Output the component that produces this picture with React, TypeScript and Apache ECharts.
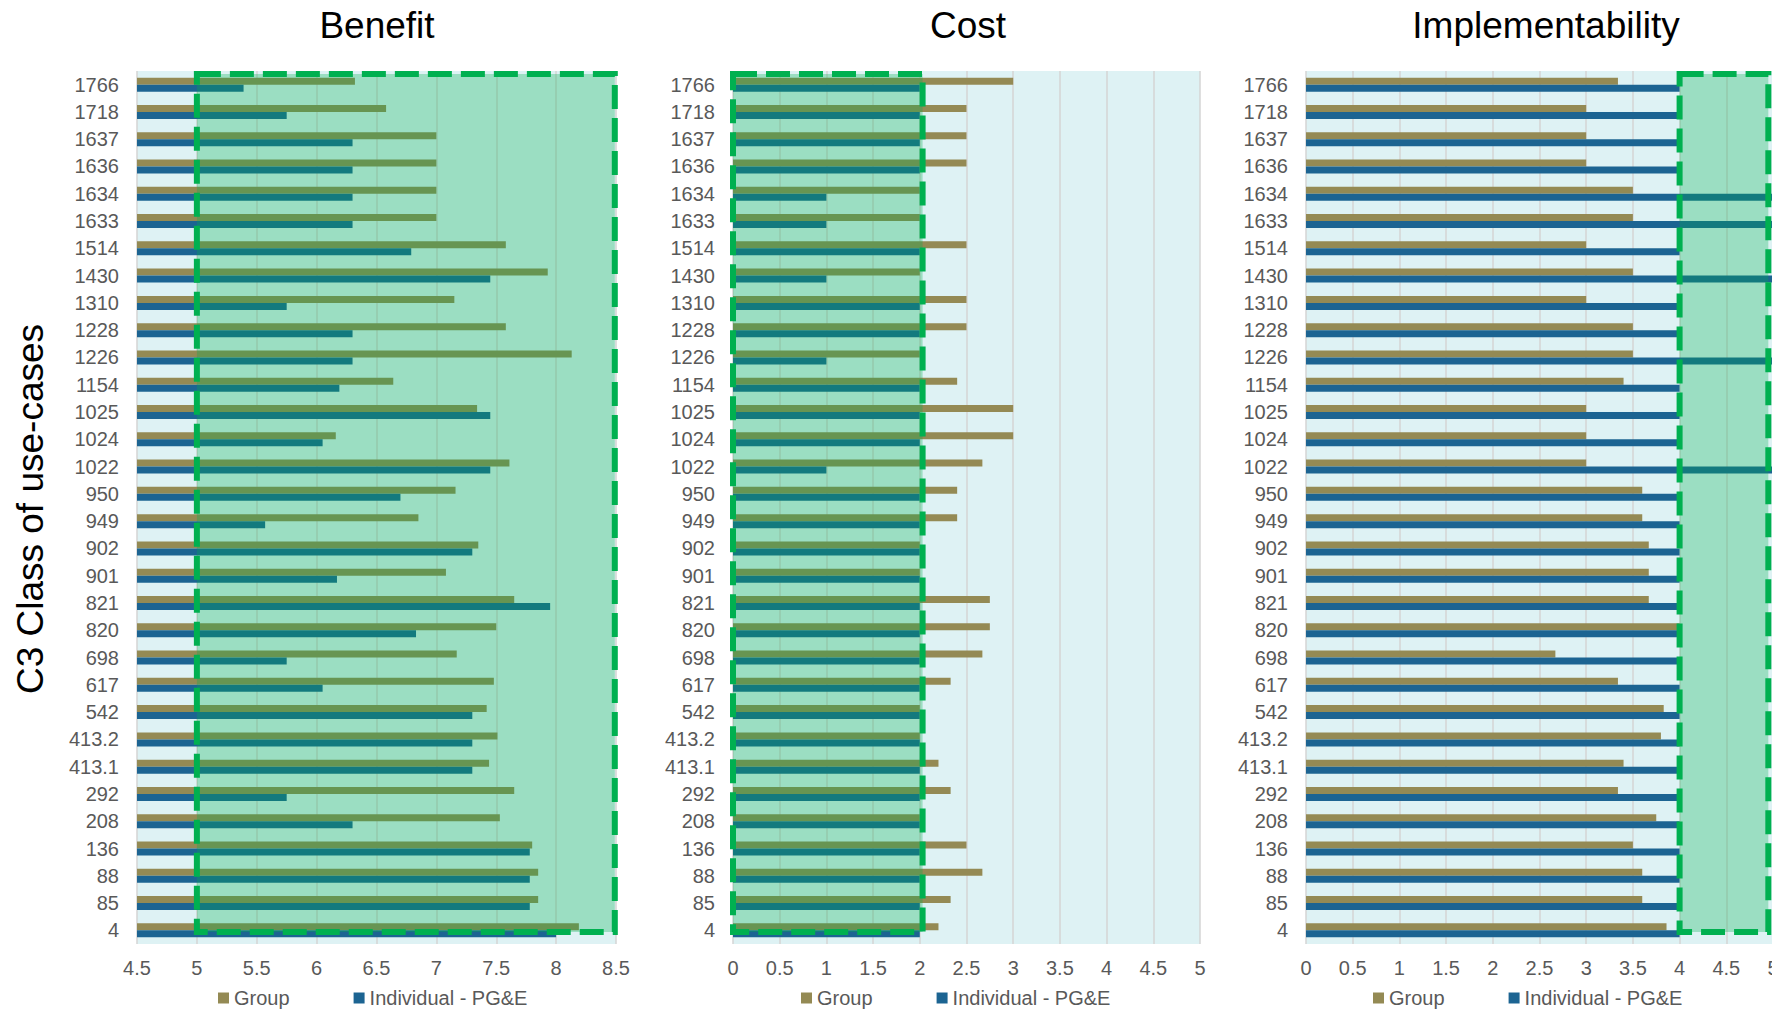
import React, { useEffect, useRef } from "react";
import * as echarts from "echarts";

const categories = ["1766","1718","1637","1636","1634","1633","1514","1430","1310","1228","1226","1154","1025","1024","1022","950","949","902","901","821","820","698","617","542","413.2","413.1","292","208","136","88","85","4"];

const benefitGroup = [6.32,6.58,7.0,7.0,7.0,7.0,7.58,7.93,7.15,7.58,8.13,6.64,7.34,6.16,7.61,7.16,6.85,7.35,7.08,7.65,7.5,7.17,7.48,7.42,7.51,7.44,7.65,7.53,7.8,7.85,7.85,8.19];
const benefitIndividual = [5.39,5.75,6.3,6.3,6.3,6.3,6.79,7.45,5.75,6.3,6.3,6.19,7.45,6.05,7.45,6.7,5.57,7.3,6.17,7.95,6.83,5.75,6.05,7.3,7.3,7.3,5.75,6.3,7.78,7.78,7.78,8.0];

const costGroup = [3.0,2.5,2.5,2.5,2.0,2.0,2.5,2.0,2.5,2.5,2.0,2.4,3.0,3.0,2.67,2.4,2.4,2.0,2.0,2.75,2.75,2.67,2.33,2.0,2.0,2.2,2.33,2.0,2.5,2.67,2.33,2.2];
const costIndividual = [2,2,2,2,1,1,2,1,2,2,1,2,2,2,1,2,2,2,2,2,2,2,2,2,2,2,2,2,2,2,2,2];

const implGroup = [3.34,3.0,3.0,3.0,3.5,3.5,3.0,3.5,3.0,3.5,3.5,3.4,3.0,3.0,3.0,3.6,3.6,3.67,3.67,3.67,4.0,2.67,3.34,3.83,3.8,3.4,3.34,3.75,3.5,3.6,3.6,3.86];
const implIndividual = [4,4,4,4,5,5,4,5,4,4,5,4,4,4,5,4,4,4,4,4,4,4,4,4,4,4,4,4,4,4,4,4];

const panelTitles = ["Benefit", "Cost", "Implementability"];
const axisRanges = [[4.5, 8.5], [0, 5], [0, 5]];
const targetZones = [[5, 8.49], [0, 2.03], [4, 4.95]];
const seriesNames = ["Group", "Individual - PG&E"];
const yAxisTitle = "C3 Class of use-cases";

const FONT = "'Liberation Sans', Arial, sans-serif";
const GROUP_COLOR = "#948A54";
const IND_COLOR = "#1C6492";

const grids = [
  { left: 137, top: 71, width: 479, height: 873 },
  { left: 733, top: 71, width: 467, height: 873 },
  { left: 1306, top: 71, width: 467, height: 873 },
];
const titleCenters = [372, 963, 1541];
const legendLefts = [218, 801, 1373];

export default function App() {
  const ref = useRef<HTMLDivElement>(null);
  useEffect(() => {
    if (!ref.current) return;
    const chart = echarts.init(ref.current, null, { renderer: "svg" });
    const groupData = [benefitGroup, costGroup, implGroup];
    const indData = [benefitIndividual, costIndividual, implIndividual];

    const series: any[] = [];
    for (let i = 0; i < 3; i++) {
      series.push({
        type: "bar", name: seriesNames[0], xAxisIndex: i, yAxisIndex: i,
        data: groupData[i], barWidth: 7, barGap: "0%",
        itemStyle: { color: GROUP_COLOR }, z: 2,
      });
      series.push({
        type: "bar", name: seriesNames[1], xAxisIndex: i, yAxisIndex: i,
        data: indData[i], barWidth: 7, barGap: "0%",
        itemStyle: { color: IND_COLOR }, z: 2,
      });
      series.push({
        type: "custom", name: "zone" + i, xAxisIndex: i, yAxisIndex: i,
        z: 10, silent: true,
        data: [targetZones[i]],
        encode: { x: [0, 1] },
        renderItem: (params: any, api: any) => {
          const cs = params.coordSys;
          const x0 = api.coord([api.value(0), 0])[0];
          const x1 = api.coord([api.value(1), 0])[0];
          const top = cs.y + 3;
          const bottom = cs.y + cs.height - 12;
          return {
            type: "rect",
            shape: { x: x0, y: top, width: x1 - x0, height: bottom - top },
            style: {
              fill: "rgba(0,176,80,0.3)",
              stroke: "#00B050",
              lineWidth: 6,
              lineDash: [24, 9],
            },
          };
        },
      });
    }

    const option: any = {
      animation: false,
      textStyle: { fontFamily: FONT },
      title: panelTitles.map((t, i) => ({
        text: t, left: titleCenters[i], top: 2, textAlign: "center",
        textStyle: { fontSize: 37, fontWeight: "normal", color: "#000", fontFamily: FONT },
      })),
      legend: legendLefts.map((l) => ({
        data: seriesNames, left: l, top: 988, icon: "rect", padding: 0,
        itemWidth: 11, itemHeight: 11, itemGap: 64,
        textStyle: { fontSize: 20, color: "#595959", fontFamily: FONT },
      })),
      grid: grids.map((g) => ({
        ...g, show: true, backgroundColor: "#DEF2F4", borderWidth: 0,
        containLabel: false, outerBoundsMode: "none",
      })),
      xAxis: axisRanges.map((r, i) => ({
        type: "value", gridIndex: i, min: r[0], max: r[1], interval: 0.5,
        axisLine: { show: false }, axisTick: { show: false },
        splitLine: { show: true, lineStyle: { color: "#D4D4D4", width: 1.5 } },
        axisLabel: { fontSize: 20, color: "#595959", margin: 14, fontFamily: FONT, showMaxLabel: true, showMinLabel: true },
      })),
      yAxis: [0, 1, 2].map((i) => ({
        type: "category", gridIndex: i, data: categories, inverse: true,
        axisLine: { show: false }, axisTick: { show: false },
        splitLine: { show: false },
        axisLabel: { fontSize: 20, color: "#595959", margin: 18, fontFamily: FONT, interval: 0 },
      })),
      graphic: [
        {
          type: "text", x: 30, y: 509, rotation: Math.PI / 2,
          style: {
            text: yAxisTitle, fontSize: 37, fill: "#000", fontFamily: FONT,
            align: "center", verticalAlign: "middle",
          },
        },
      ],
      series,
    };
    chart.setOption(option);
    return () => chart.dispose();
  }, []);
  return (
    <div
      ref={ref}
      style={{ position: "fixed", left: 0, top: 0, width: 1772, height: 1013, background: "#fff" }}
    />
  );
}
